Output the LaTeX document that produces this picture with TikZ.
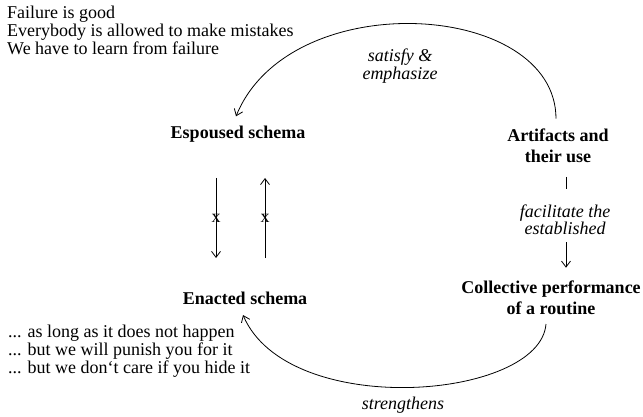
\documentclass[tikz,border=0pt]{standalone}
\usepackage{fontspec}
\setmainfont{Liberation Serif}
\usetikzlibrary{calc,arrows.meta}
\begin{document}
\begin{tikzpicture}[x=1pt,y=-1pt,
  txt/.style={inner sep=0pt,font=\fontsize{18}{18}\selectfont},
  boldtxt/.style={inner sep=0pt,font=\fontsize{18}{21}\selectfont\bfseries,align=center},
  ittxt/.style={inner sep=0pt,font=\fontsize{18}{17}\selectfont\itshape,align=center},
  conn/.style={line width=0.8pt,-{Straight Barb[length=6pt,width=9pt]}},
  plainline/.style={line width=0.8pt}]
\useasboundingbox (0,0) rectangle (643,417);

\node[txt,align=left,anchor=north west] (tl) at (7,5.7)
  {Failure is good\\Everybody is allowed to make mistakes\\We have to learn from failure};
\node[boldtxt,anchor=base] (esp) at (238,139) {Espoused schema};
\node[boldtxt,anchor=south] (art) at (558,163) {Artifacts and\\their use};
\node[ittxt,anchor=south] (fac) at (565,235) {facilitate the\\established};
\node[boldtxt,anchor=south] (col) at (551,315) {Collective performance\\of a routine};
\node[boldtxt,anchor=base] (ena) at (245,304) {Enacted schema};
\node[ittxt,anchor=base] (str) at (403,409) {strengthens};
\node[ittxt,anchor=south,font=\fontsize{18}{18}\selectfont\itshape] (sat) at (400,84) {satisfy \&\\emphasize};
\node[txt,align=left,anchor=north west] (bl) at (8,324.7)
  {... as long as it does not happen\\... but we will punish you for it\\... but we don‘t care if you hide it};

\draw[conn] ($(art.north)+(-2,-10)$) .. controls +(0,-118) and +(54,-132) .. ($(esp.north)+(-2,-10)$);
\draw[plainline] ($(art.south)+(8,14)$) -- ($(fac.north)+(1,-16)$);
\draw[conn] ($(fac.south)+(1,7)$) -- ($(col.north)+(15,-13)$);
\draw[conn] ($(col.south)+(-5,9)$) .. controls +(-6,76) and +(45,105) .. ($(ena.base)+(-2,11)$);
\draw[conn] ($(esp.base)+(-22,39)$) -- node[txt] (x1) {x} ($(ena.base)+(-29,-46)$);
\draw[conn] ($(ena.base)+(20,-46)$) -- node[txt] (x2) {x} ($(esp.base)+(27,39)$);
\end{tikzpicture}
\end{document}
